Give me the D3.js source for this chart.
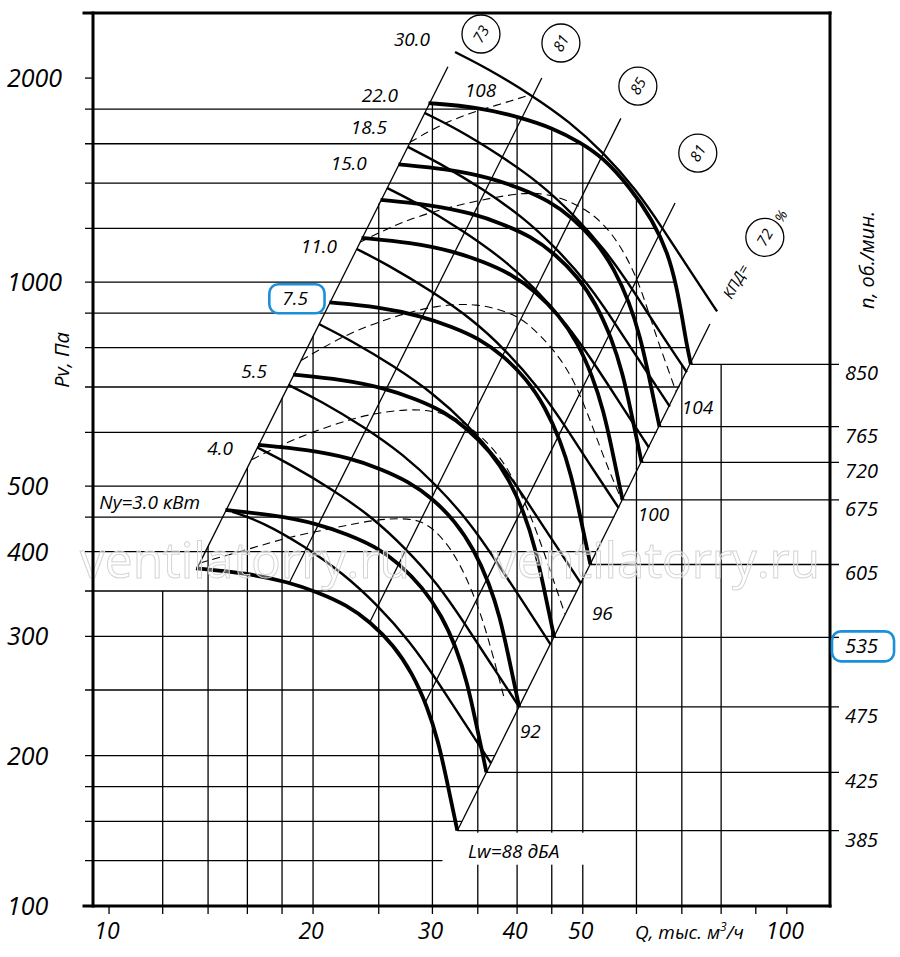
<!DOCTYPE html>
<html><head><meta charset="utf-8">
<script src="https://cdn.jsdelivr.net/npm/d3@7"></script>
<style>
body{margin:0;background:#fff}
svg{display:block}
text{font-family:"Open Sans","DejaVu Sans",sans-serif;font-style:italic;fill:#000}
</style></head>
<body><svg id="c" width="900" height="957"></svg>
<script>
// ---------- axes ----------
const qDomain = [9.47, 115.8];
const pDomain = [120, 2495];
const qGrid = [12,14,16,18,20,25,30,35,40,45,50,60,70,80];
const qTicks = [10,12,14,16,18,20,25,30,35,40,45,50,60,70,80,90,100];
const qLabels = [10,20,30,40,50,100];
const pGrid = [140,160,180,200,250,300,350,400,450,500,600,700,800,900,1000,1200,1400,1600,1800];
const pLabels = [2000,1000,500,400,300,200];
const pBottomLabel = "100";
const pTopTick = 2000;

// ---------- fan speed curves (Q, тыс. м3/ч ; Pv, Па) ----------
const rpmValues = [385,425,475,535,605,675,720,765,850];
const rpm385 = [[13.45,378],[15.9,372],[18.4,361],[20.4,348],[22.4,334],[24.3,315],[26.3,291],[28.0,265],[29.5,236],[30.6,210],[31.5,184],[32.1,168],[32.65,155]];
const rpm425 = [[14.85,461],[17.55,453],[20.31,440],[22.52,424],[24.73,407],[26.82,384],[29.03,354],[30.91,323],[32.57,288],[33.78,256],[34.77,224],[35.44,205],[36.04,189]];
const rpm475 = [[16.59,575],[19.62,566],[22.7,550],[25.17,530],[27.64,508],[29.98,480],[32.45,443],[34.55,403],[36.4,359],[37.75,320],[38.86,280],[39.6,256],[40.28,236]];
const rpm535 = [[18.69,730],[22.09,718],[25.57,697],[28.35,672],[31.13,645],[33.77,608],[36.55,562],[38.91,512],[40.99,456],[42.52,406],[43.77,355],[44.61,324],[45.37,299]];
const rpm605 = [[21.14,933],[24.99,919],[28.91,891],[32.06,859],[35.2,825],[38.19,778],[41.33,719],[44.0,654],[46.36,583],[48.09,519],[49.5,454],[50.44,415],[51.31,383]];
const rpm675 = [[23.58,1162],[27.88,1144],[32.26,1110],[35.77,1070],[39.27,1027],[42.6,968],[46.11,894],[49.09,815],[51.72,725],[53.65,646],[55.23,566],[56.28,516],[57.24,477]];
const rpm720 = [[25.15,1322],[29.74,1301],[34.41,1263],[38.15,1217],[41.89,1168],[45.44,1102],[49.18,1018],[52.36,927],[55.17,825],[57.23,735],[58.91,644],[60.03,588],[61.06,542]];
const rpm765 = [[26.73,1492],[31.59,1469],[36.56,1425],[40.53,1374],[44.51,1319],[48.28,1244],[52.26,1149],[55.64,1046],[58.62,932],[60.8,829],[62.59,727],[63.78,663],[64.88,612]];
const rpm850 = [[29.6,1837],[35,1812],[40.4,1751],[45.2,1687],[49.5,1609],[53.5,1529],[58.7,1380],[63.4,1234],[66.8,1103],[68.8,982],[70.2,878],[71.2,806],[72.2,756]];

// ---------- installed power lines, Ny кВт ----------
const nyLabels = ["Ny=3.0 кВт","4.0","5.5","7.5","11.0","15.0","18.5","22.0","30.0"];
const ny3   = [[15.2,458],[16.8,443],[19.4,408],[22.2,371],[24.8,335],[27.8,295],[30.5,258],[33.4,224],[36.6,195]];
const ny4   = [[16.55,570],[18.4,540],[21.4,494],[24.5,449],[27.3,406],[30.6,358],[33.5,313],[36.7,272],[40.3,236]];
const ny55  = [[18.4,705],[20.5,668],[23.8,611],[27.2,556],[30.4,502],[34.0,443],[37.3,387],[40.9,336],[44.8,292]];
const ny75  = [[20.4,867],[22.7,821],[26.3,752],[30.2,683],[33.7,618],[37.7,544],[41.3,476],[45.3,413],[49.7,359]];
const ny11  = [[23.2,1119],[25.8,1060],[29.9,970],[34.3,882],[38.3,797],[42.9,702],[47.0,615],[51.5,533],[56.5,464]];
const ny15  = [[25.7,1377],[28.7,1303],[33.2,1193],[38.0,1085],[42.5,980],[47.5,864],[52.1,756],[57.1,656],[62.6,570]];
const ny185 = [[27.6,1583],[30.7,1499],[35.6,1372],[40.8,1247],[45.5,1127],[51.0,993],[55.8,869],[61.2,754],[67.2,655]];
const ny22  = [[29.2,1777],[32.6,1683],[37.7,1540],[43.2,1400],[48.2,1265],[54.0,1115],[59.2,976],[64.8,847],[71.2,736]];
const ny30  = [[32.4,2185],[36.1,2069],[41.8,1894],[47.9,1722],[53.5,1556],[59.9,1371],[65.6,1200],[71.9,1041],[78.9,905]];
const nyLabelQ = [13.62,15.24,17.1,19.66,21.69,24.01,25.7,26.69,29.76];
const nyLabelP = [463,555,723,924,1103,1463,1654,1843,2229];

// ---------- efficiency lines (КПД, %) ----------
const effNames = ["73","81","85","81","72"];
const eff73  = [[13.45,376],[31.62,2078]];
const eff81a = [[18.45,360],[43.5,2000]];
const eff85  = [[24.3,316],[56.9,1744]];
const eff81b = [[29.3,240],[68.4,1308]];
const eff72  = [[32.65,155],[77,867]];
const effCircleQ = [35.38,46.42,60.29,73.9,92.8];
const effCircleP = [2323,2253,1946,1550,1164];

// ---------- dashed curves ----------
const dash1 = [[13.62,385],[16.14,404],[18.49,421],[21.4,433],[24.51,446],[27.79,449],[29.75,439],[32.17,402],[34.08,357],[35.62,317],[36.85,281],[38.38,241]];
const dash2 = [[16.25,547],[18.49,584],[21.91,621],[24.51,640],[27.51,649],[29.75,647],[32.61,632],[35.62,590],[38.38,542],[41.36,468],[43.66,404],[45.78,351],[47.04,324]];
const dash3 = [[19.2,766],[22.44,840],[26.6,893],[30.46,924],[34.89,931],[39.43,900],[42.22,858],[46.73,767],[49.5,685],[51.74,610],[54.26,536],[57.09,476]];
const dash4 = [[23.45,1145],[26.87,1225],[31.52,1290],[39.43,1352],[44.26,1357],[50.7,1286],[55.38,1181],[59.28,1048],[61.74,940],[64.09,835],[66.08,767],[68.6,690]];
const dash5 = [[27.79,1608],[30.77,1705],[34.08,1776],[37.73,1830],[41.78,1888]];

// ---------- noise labels ----------
const lwLabels = ["Lw=88 дБА","92","96","100","104","108"];
const lwQ = [33.85,40.38,51.57,60.29,70.0,33.5];
const lwP = [141.4,212.5,316.7,444.7,638,1875];

// =====================================================
const svg = d3.select("#c");
const x = d3.scaleLog().domain(qDomain).range([93, 830]);
const y = d3.scaleLog().domain(pDomain).range([906, 13]);
const L = x.range()[0], R = x.range()[1], T = y.range()[1], B = y.range()[0];

const curve = d3.line().x(d => x(d[0])).y(d => y(d[1])).curve(d3.curveBasis);
const straight = d3.line().x(d => x(d[0])).y(d => y(d[1]));

const rpmCurves = [rpm385,rpm425,rpm475,rpm535,rpm605,rpm675,rpm720,rpm765,rpm850];
const nyLines = [ny3,ny4,ny55,ny75,ny11,ny15,ny185,ny22,ny30];
const effLines = [eff73,eff81a,eff85,eff81b,eff72];
const dashCurves = [dash1,dash2,dash3,dash4,dash5];

function xAtY(line, py){
  const X0=x(line[0][0]),Y0=y(line[0][1]),X1=x(line[1][0]),Y1=y(line[1][1]);
  return X0 + (py-Y0)*(X1-X0)/(Y1-Y0);
}

const defs = svg.append("defs");
const yb = B + 6;
const top850 = curve(rpm850).replace(/^M/,"L");
const hPath = `M${L-20},${y(rpm850[0][1])}` + top850 +
  `L${x(eff72[0][0])},${y(eff72[0][1])}L${xAtY(eff72,yb)},${yb}L${L-20},${yb}Z`;
defs.append("clipPath").attr("id","clipH").append("path").attr("d",hPath);
const end850 = rpm850[rpm850.length-1];
const sub850 = rpm850.slice(0,9);
const vPath = `M${L-20},${yb}L${L-20},${y(350)}L${xAtY(eff73,y(350))},${y(350)}` +
  `L${x(rpm850[0][0])},${y(rpm850[0][1])}` + curve(sub850).replace(/^M/,"L") +
  `L${x(sub850[8][0])},${y(end850[1])}L${R+10},${y(end850[1])}L${R+10},${yb}Z`;
defs.append("clipPath").attr("id","clipV").append("path").attr("d",vPath);

const thin = 1.3;
svg.append("g").attr("clip-path","url(#clipH)")
  .selectAll("line").data(pGrid).join("line")
  .attr("x1",L-8).attr("x2",R).attr("y1",d=>y(d)).attr("y2",d=>y(d))
  .attr("stroke","#000").attr("stroke-width",thin);
svg.append("line").attr("x1",L-8).attr("x2",L).attr("y1",y(pTopTick)).attr("y2",y(pTopTick))
  .attr("stroke","#000").attr("stroke-width",thin);
svg.append("g").attr("clip-path","url(#clipV)")
  .selectAll("line").data(qGrid).join("line")
  .attr("x1",d=>x(d)).attr("x2",d=>x(d)).attr("y1",B).attr("y2",T)
  .attr("stroke","#000").attr("stroke-width",thin);
svg.append("g").selectAll("line").data(qTicks).join("line")
  .attr("x1",d=>x(d)).attr("x2",d=>x(d)).attr("y1",B).attr("y2",B+8)
  .attr("stroke","#000").attr("stroke-width",thin);

svg.append("g").selectAll("line").data(rpmCurves).join("line")
  .attr("x1",d=>x(d[d.length-1][0])).attr("x2",R+9)
  .attr("y1",d=>y(d[d.length-1][1])).attr("y2",d=>y(d[d.length-1][1]))
  .attr("stroke","#000").attr("stroke-width",thin);

svg.append("rect").attr("x",x(lwQ[0])-22).attr("y",y(rpm385[rpm385.length-1][1])+2)
  .attr("width",144).attr("height",32).attr("fill","#fff");

// efficiency lines
svg.append("g").selectAll("path").data(effLines).join("path")
  .attr("d",straight).attr("fill","none").attr("stroke","#000").attr("stroke-width",thin);
// dashed curves
svg.append("g").selectAll("path").data(dashCurves).join("path")
  .attr("d",curve).attr("fill","none").attr("stroke","#000").attr("stroke-width",1.1)
  .attr("stroke-dasharray","8,5");
// power lines
svg.append("g").selectAll("path").data(nyLines).join("path")
  .attr("d",curve).attr("fill","none").attr("stroke","#000").attr("stroke-width",2.4);
// rpm curves
svg.append("g").selectAll("path").data(rpmCurves).join("path")
  .attr("d",curve).attr("fill","none").attr("stroke","#000").attr("stroke-width",3.8);

// watermark (faint outline)
const wm = svg.append("g");
[[80,330],[492,328]].forEach(([wx,wl])=>{
  wm.append("text").attr("x",wx).attr("y",578).attr("textLength",wl).attr("lengthAdjust","spacingAndGlyphs")
    .style("font-style","normal").style("font-size","50px")
    .style("fill","#fff").style("fill-opacity",0.35).attr("stroke","#d4d4d4").attr("stroke-width",1)
    .text("ventilatorry.ru");
});

// efficiency circles
const eg = svg.append("g");
effNames.forEach((n,i)=>{
  const cx=x(effCircleQ[i]), cy=y(effCircleP[i]);
  eg.append("circle").attr("cx",cx).attr("cy",cy).attr("r",19)
    .attr("fill","#fff").attr("stroke","#000").attr("stroke-width",1.3);
  eg.append("text").attr("transform",`translate(${cx},${cy}) rotate(-60)`)
    .attr("text-anchor","middle").attr("dy","0.36em").style("font-size","15px").text(n);
});
svg.append("text").attr("transform",`translate(${x(84.1)},${y(1002)}) rotate(-60)`)
  .attr("text-anchor","middle").attr("dy","0.36em").style("font-size","15px").text("КПД=");
svg.append("text").attr("transform",`translate(${x(98.0)},${y(1251)}) rotate(-60)`)
  .attr("text-anchor","middle").attr("dy","0.36em").style("font-size","14px").text("%");

const nyT = svg.append("g").selectAll("text").data(nyLabels).join("text")
  .attr("x",(d,i)=>x(nyLabelQ[i])).attr("y",(d,i)=>y(nyLabelP[i]))
  .attr("text-anchor","end").style("font-size","19px").text(d=>d);

svg.append("g").selectAll("text").data(lwLabels).join("text")
  .attr("x",(d,i)=>x(lwQ[i])).attr("y",(d,i)=>y(lwP[i]))
  .style("font-size","19px").text(d=>d);

const rpmT = svg.append("g").selectAll("text").data(rpmValues).join("text")
  .attr("x",R+15).attr("y",(d,i)=>{const c=rpmCurves[i];return y(c[c.length-1][1])+16;})
  .style("font-size","20px").text(d=>d);

svg.append("g").selectAll("text").data(pLabels).join("text")
  .attr("x",7).attr("y",d=>y(d)+9).style("font-size","25px").text(d=>d);
svg.append("text").attr("x",7).attr("y",B+9).style("font-size","25px").text(pBottomLabel);
svg.append("g").selectAll("text").data(qLabels).join("text")
  .attr("x",d=>x(d)-2).attr("y",939).attr("text-anchor","middle").style("font-size","23px").text(d=>d);
const qt = svg.append("text").attr("x",635).attr("y",939).style("font-size","19px");
qt.append("tspan").text("Q, тыс. м");
qt.append("tspan").attr("dy",-8).style("font-size","12px").text("3");
qt.append("tspan").attr("dy",8).text("/ч");
svg.append("text").attr("transform","translate(69,360) rotate(-90)").attr("text-anchor","middle")
  .style("font-size","20px").text("Pv, Па");
svg.append("text").attr("transform","translate(874,260) rotate(-90)").attr("text-anchor","middle")
  .style("font-size","20px").text("n, об./мин.");

const fr = svg.append("g").attr("stroke","#000").attr("stroke-width",3).attr("stroke-linecap","square");
fr.append("line").attr("x1",L-9).attr("x2",R).attr("y1",T).attr("y2",T);
fr.append("line").attr("x1",L-9).attr("x2",R).attr("y1",B).attr("y2",B);
fr.append("line").attr("x1",L).attr("x2",L).attr("y1",T).attr("y2",B);
fr.append("line").attr("x1",R).attr("x2",R).attr("y1",T).attr("y2",B);

function box(node){
  const b=node.getBBox();
  svg.append("rect").attr("x",b.x-13).attr("y",b.y-1).attr("width",b.width+29).attr("height",b.height+3)
    .attr("rx",9).attr("fill","none").attr("stroke","#1a8fdc").attr("stroke-width",2.6);
}
box(nyT.nodes()[3]);
box(rpmT.nodes()[3]);
</script></body></html>
